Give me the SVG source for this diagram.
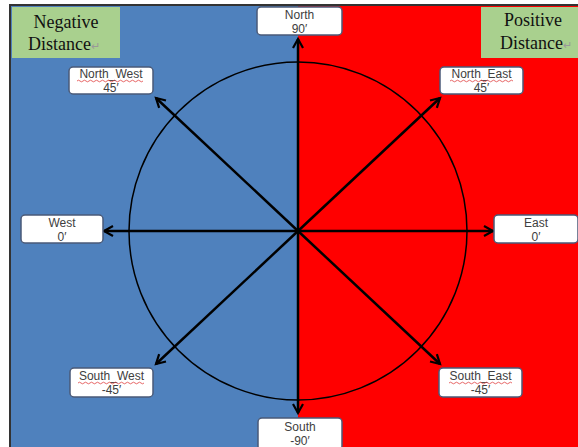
<svg xmlns="http://www.w3.org/2000/svg" width="578" height="447" viewBox="0 0 578 447">
<defs>
<style>
.lbl{fill:#fff;stroke:#4a5a78;stroke-width:1.5}
.t{font-family:"Liberation Sans","Noto Sans",Arial,sans-serif;font-size:12px;fill:#404040;text-anchor:middle}
.g{fill:#a9d08e}
.s{font-family:"Liberation Serif","Times New Roman",serif;font-size:18px;fill:#111;text-anchor:middle}
.ret{fill:#999;font-size:11px}
.ln{stroke:#000;stroke-width:2.5;fill:none}
.sq{stroke:#e04040;stroke-width:0.8;fill:none}
</style>
<marker id="ah" markerUnits="userSpaceOnUse" markerWidth="14" markerHeight="14" refX="10" refY="6" orient="auto" viewBox="0 0 14 12">
<path d="M1,1 L10,6 L1,11" fill="none" stroke="#000" stroke-width="2.2"/>
</marker>
</defs>
<rect x="0" y="0" width="578" height="447" fill="#fff"/>
<rect x="10" y="5" width="288" height="442" fill="#4f81bd"/>
<rect x="298" y="5" width="280" height="442" fill="#ff0000"/>
<path d="M10,447 L10,5 L578,5" fill="none" stroke="#333" stroke-width="2"/>

<g id="connectors">
<circle cx="298" cy="231" r="169" fill="none" stroke="#000" stroke-width="1.5"/>
<line class="ln" x1="298" y1="231" x2="298" y2="39" marker-end="url(#ah)"/>
<line class="ln" x1="298" y1="231" x2="298" y2="413" marker-end="url(#ah)"/>
<line class="ln" x1="298" y1="231" x2="104" y2="231" marker-end="url(#ah)"/>
<line class="ln" x1="298" y1="231" x2="493" y2="231" marker-end="url(#ah)"/>
<line class="ln" x1="298" y1="231" x2="156" y2="98" marker-end="url(#ah)"/>
<line class="ln" x1="298" y1="231" x2="440" y2="98" marker-end="url(#ah)"/>
<line class="ln" x1="298" y1="231" x2="156" y2="364" marker-end="url(#ah)"/>
<line class="ln" x1="298" y1="231" x2="440" y2="364" marker-end="url(#ah)"/>
</g>

<g id="negative">
<rect class="g" x="12" y="7" width="108" height="51"/>
<text class="s" x="66" y="28">Negative</text>
<text class="s" x="64" y="50">Distance<tspan class="ret">↵</tspan></text>
</g>
<g id="positive">
<rect class="g" x="481" y="7" width="97" height="51"/>
<text class="s" x="533" y="26">Positive</text>
<text class="s" x="536" y="49">Distance<tspan class="ret">↵</tspan></text>
</g>

<g id="north">
<rect class="lbl" x="257" y="7" width="85" height="28" rx="4"/>
<text class="t" x="299.5" y="19">North</text>
<text class="t" x="299.5" y="33">90′</text>
</g>
<g id="south">
<rect class="lbl" x="258" y="418" width="84" height="32" rx="4"/>
<text class="t" x="300" y="431">South</text>
<text class="t" x="300" y="445">-90′</text>
</g>
<g id="west">
<rect class="lbl" x="21" y="215" width="82" height="28" rx="4"/>
<text class="t" x="62" y="227">West</text>
<text class="t" x="62" y="241">0′</text>
</g>
<g id="east">
<rect class="lbl" x="494" y="215" width="84" height="28" rx="4"/>
<text class="t" x="536" y="227">East</text>
<text class="t" x="536" y="241">0′</text>
</g>
<g id="north_west">
<rect class="lbl" x="69" y="67" width="84" height="27" rx="4"/>
<text class="t" x="111" y="78">North_West</text>
<path class="sq" d="M77,81 q1.5,-1.6 3,0 t3,0 t3,0 t3,0 t3,0 t3,0 t3,0 t3,0 t3,0 t3,0 t3,0 t3,0 t3,0 t3,0 t3,0 t3,0 t3,0 t3,0 t3,0 t3,0 t3,0 t3,0"/>
<text class="t" x="111" y="92">45′</text>
</g>
<g id="north_east">
<rect class="lbl" x="440" y="67" width="83" height="27" rx="4"/>
<text class="t" x="481.5" y="78">North_East</text>
<path class="sq" d="M450,81 q1.5,-1.6 3,0 t3,0 t3,0 t3,0 t3,0 t3,0 t3,0 t3,0 t3,0 t3,0 t3,0 t3,0 t3,0 t3,0 t3,0 t3,0 t3,0 t3,0 t3,0 t3,0 t3,0"/>
<text class="t" x="481.5" y="92">45′</text>
</g>
<g id="south_west">
<rect class="lbl" x="70" y="368" width="83" height="29" rx="4"/>
<text class="t" x="111.5" y="380">South_West</text>
<path class="sq" d="M78,383 q1.5,-1.6 3,0 t3,0 t3,0 t3,0 t3,0 t3,0 t3,0 t3,0 t3,0 t3,0 t3,0 t3,0 t3,0 t3,0 t3,0 t3,0 t3,0 t3,0 t3,0 t3,0 t3,0 t3,0"/>
<text class="t" x="111.5" y="394">-45′</text>
</g>
<g id="south_east">
<rect class="lbl" x="439" y="368" width="83" height="29" rx="4"/>
<text class="t" x="480.5" y="380">South_East</text>
<path class="sq" d="M449,383 q1.5,-1.6 3,0 t3,0 t3,0 t3,0 t3,0 t3,0 t3,0 t3,0 t3,0 t3,0 t3,0 t3,0 t3,0 t3,0 t3,0 t3,0 t3,0 t3,0 t3,0 t3,0 t3,0"/>
<text class="t" x="480.5" y="394">-45′</text>
</g>
</svg>
